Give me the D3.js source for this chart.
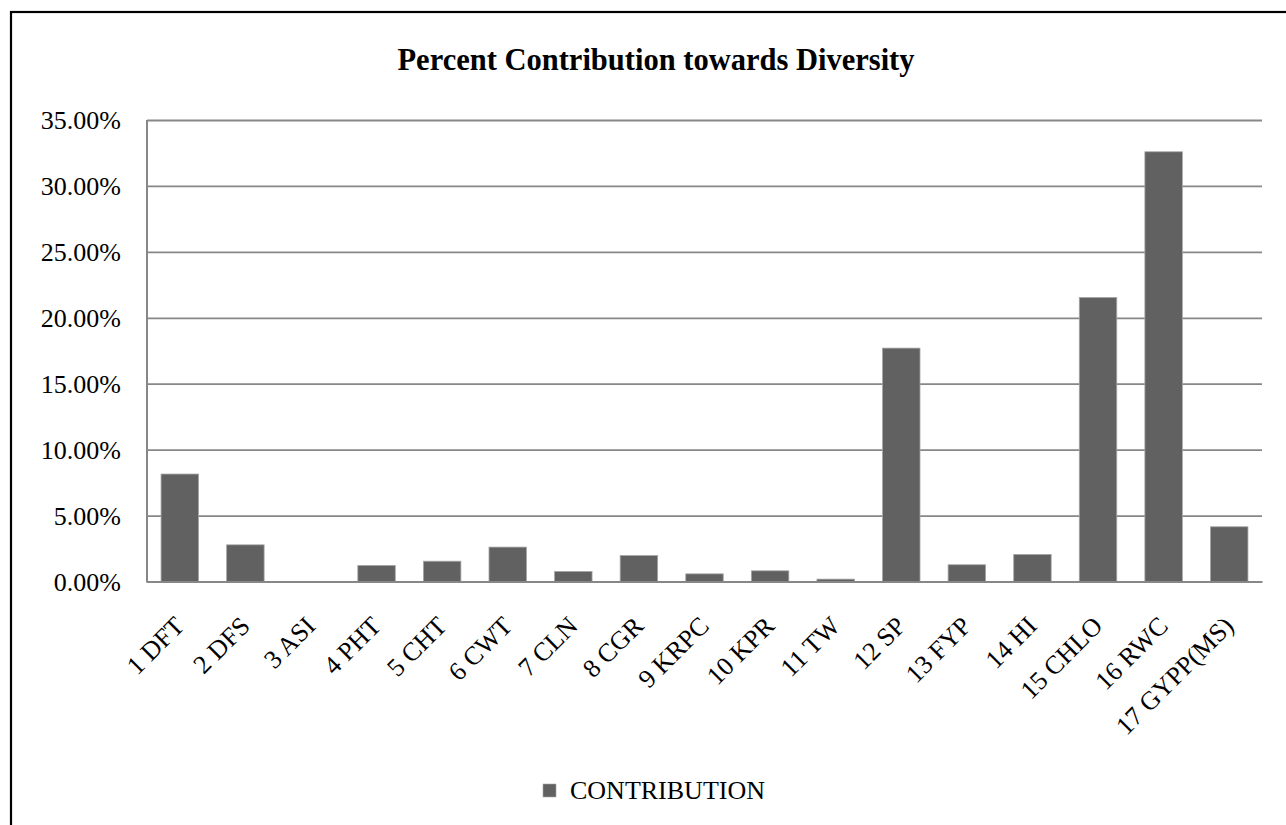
<!DOCTYPE html>
<html>
<head>
<meta charset="utf-8">
<script src="https://cdn.jsdelivr.net/npm/d3@7"></script>
<style>
  html, body { margin: 0; padding: 0; background: #fff; }
  svg { display: block; }
  text { font-family: "Liberation Serif", "Times New Roman", serif; fill: #000; }
</style>
</head>
<body>
<svg id="chart" width="1286" height="825"></svg>
<script>
const categories = ["1 DFT","2 DFS","3 ASI","4 PHT","5 CHT","6 CWT","7 CLN","8 CGR","9 KRPC","10 KPR","11 TW","12 SP","13 FYP","14 HI","15 CHLO","16 RWC","17 GYPP(MS)"];
const contribution = [8.15, 2.78, 0, 1.22, 1.54, 2.61, 0.76, 1.97, 0.58, 0.81, 0.18, 17.70, 1.27, 2.05, 21.54, 32.59, 4.15];
const yTicks = [0, 5, 10, 15, 20, 25, 30, 35];
const seriesName = "CONTRIBUTION";
const chartTitle = "Percent Contribution towards Diversity";

const svg = d3.select("#chart");
const W = 1286, H = 825;
const plot = { left: 147, right: 1262, top: 120, bottom: 581.5 };

// outer border (only top & left visible in reference)
svg.append("rect")
  .attr("x", 11).attr("y", 12)
  .attr("width", W + 20).attr("height", H + 20)
  .attr("fill", "#fff").attr("stroke", "#000").attr("stroke-width", 2.2);

const x = d3.scaleBand().domain(categories)
  .range([plot.left, plot.right]).paddingInner(0.4286).paddingOuter(0.2143);
const y = d3.scaleLinear().domain([0, 35]).range([plot.bottom, plot.top]);

// gridlines
const yAxis = d3.axisLeft(y).tickValues(yTicks)
  .tickSize(-(plot.right - plot.left))
  .tickFormat(d => d.toFixed(2) + "%")
  .tickPadding(26);
const gy = svg.append("g").attr("transform", `translate(${plot.left},0)`).call(yAxis);
gy.select(".domain").remove();
gy.selectAll(".tick line").attr("stroke", "#878787").attr("stroke-width", 1.8);
gy.selectAll(".tick text")
  .style("font-family", '"Liberation Serif", "Times New Roman", serif')
  .style("font-size", "26px").attr("fill", "#000").attr("dy", "0.34em");

// bars
svg.append("g").selectAll("rect").data(contribution).join("rect")
  .attr("x", (d, i) => x(categories[i]))
  .attr("width", x.bandwidth())
  .attr("y", d => y(d))
  .attr("height", d => y(0) - y(d))
  .attr("fill", "#616161")
  .attr("stroke", d => d > 0 ? "#a6a6a6" : "none")
  .attr("stroke-width", 0.8);

// axes lines
svg.append("line").attr("x1", plot.left).attr("x2", plot.left)
  .attr("y1", plot.top).attr("y2", plot.bottom + 1)
  .attr("stroke", "#878787").attr("stroke-width", 2);
const xAxis = d3.axisBottom(x).tickSize(0).tickPadding(0);
const gx = svg.append("g").attr("transform", `translate(0,${plot.bottom})`).call(xAxis);
gx.select(".domain").attr("stroke", "#878787").attr("stroke-width", 2.2);
gx.selectAll(".tick text")
  .style("font-family", '"Liberation Serif", "Times New Roman", serif')
  .style("font-size", "26px").attr("fill", "#000")
  .attr("text-anchor", "end")
  .attr("dy", null).attr("y", null)
  .attr("transform", "translate(6,46) rotate(-45)");

// title
svg.append("text").attr("x", 656).attr("y", 70)
  .attr("text-anchor", "middle")
  .style("font-size", "30.5px").style("font-weight", "bold")
  .text(chartTitle);

// legend
const lg = svg.append("g");
lg.append("rect").attr("x", 543).attr("y", 784).attr("width", 13).attr("height", 13)
  .attr("fill", "#616161").attr("stroke", "#a6a6a6").attr("stroke-width", 0.6);
lg.append("text").attr("x", 570).attr("y", 799)
  .style("font-size", "26px").text(seriesName);
</script>
</body>
</html>
